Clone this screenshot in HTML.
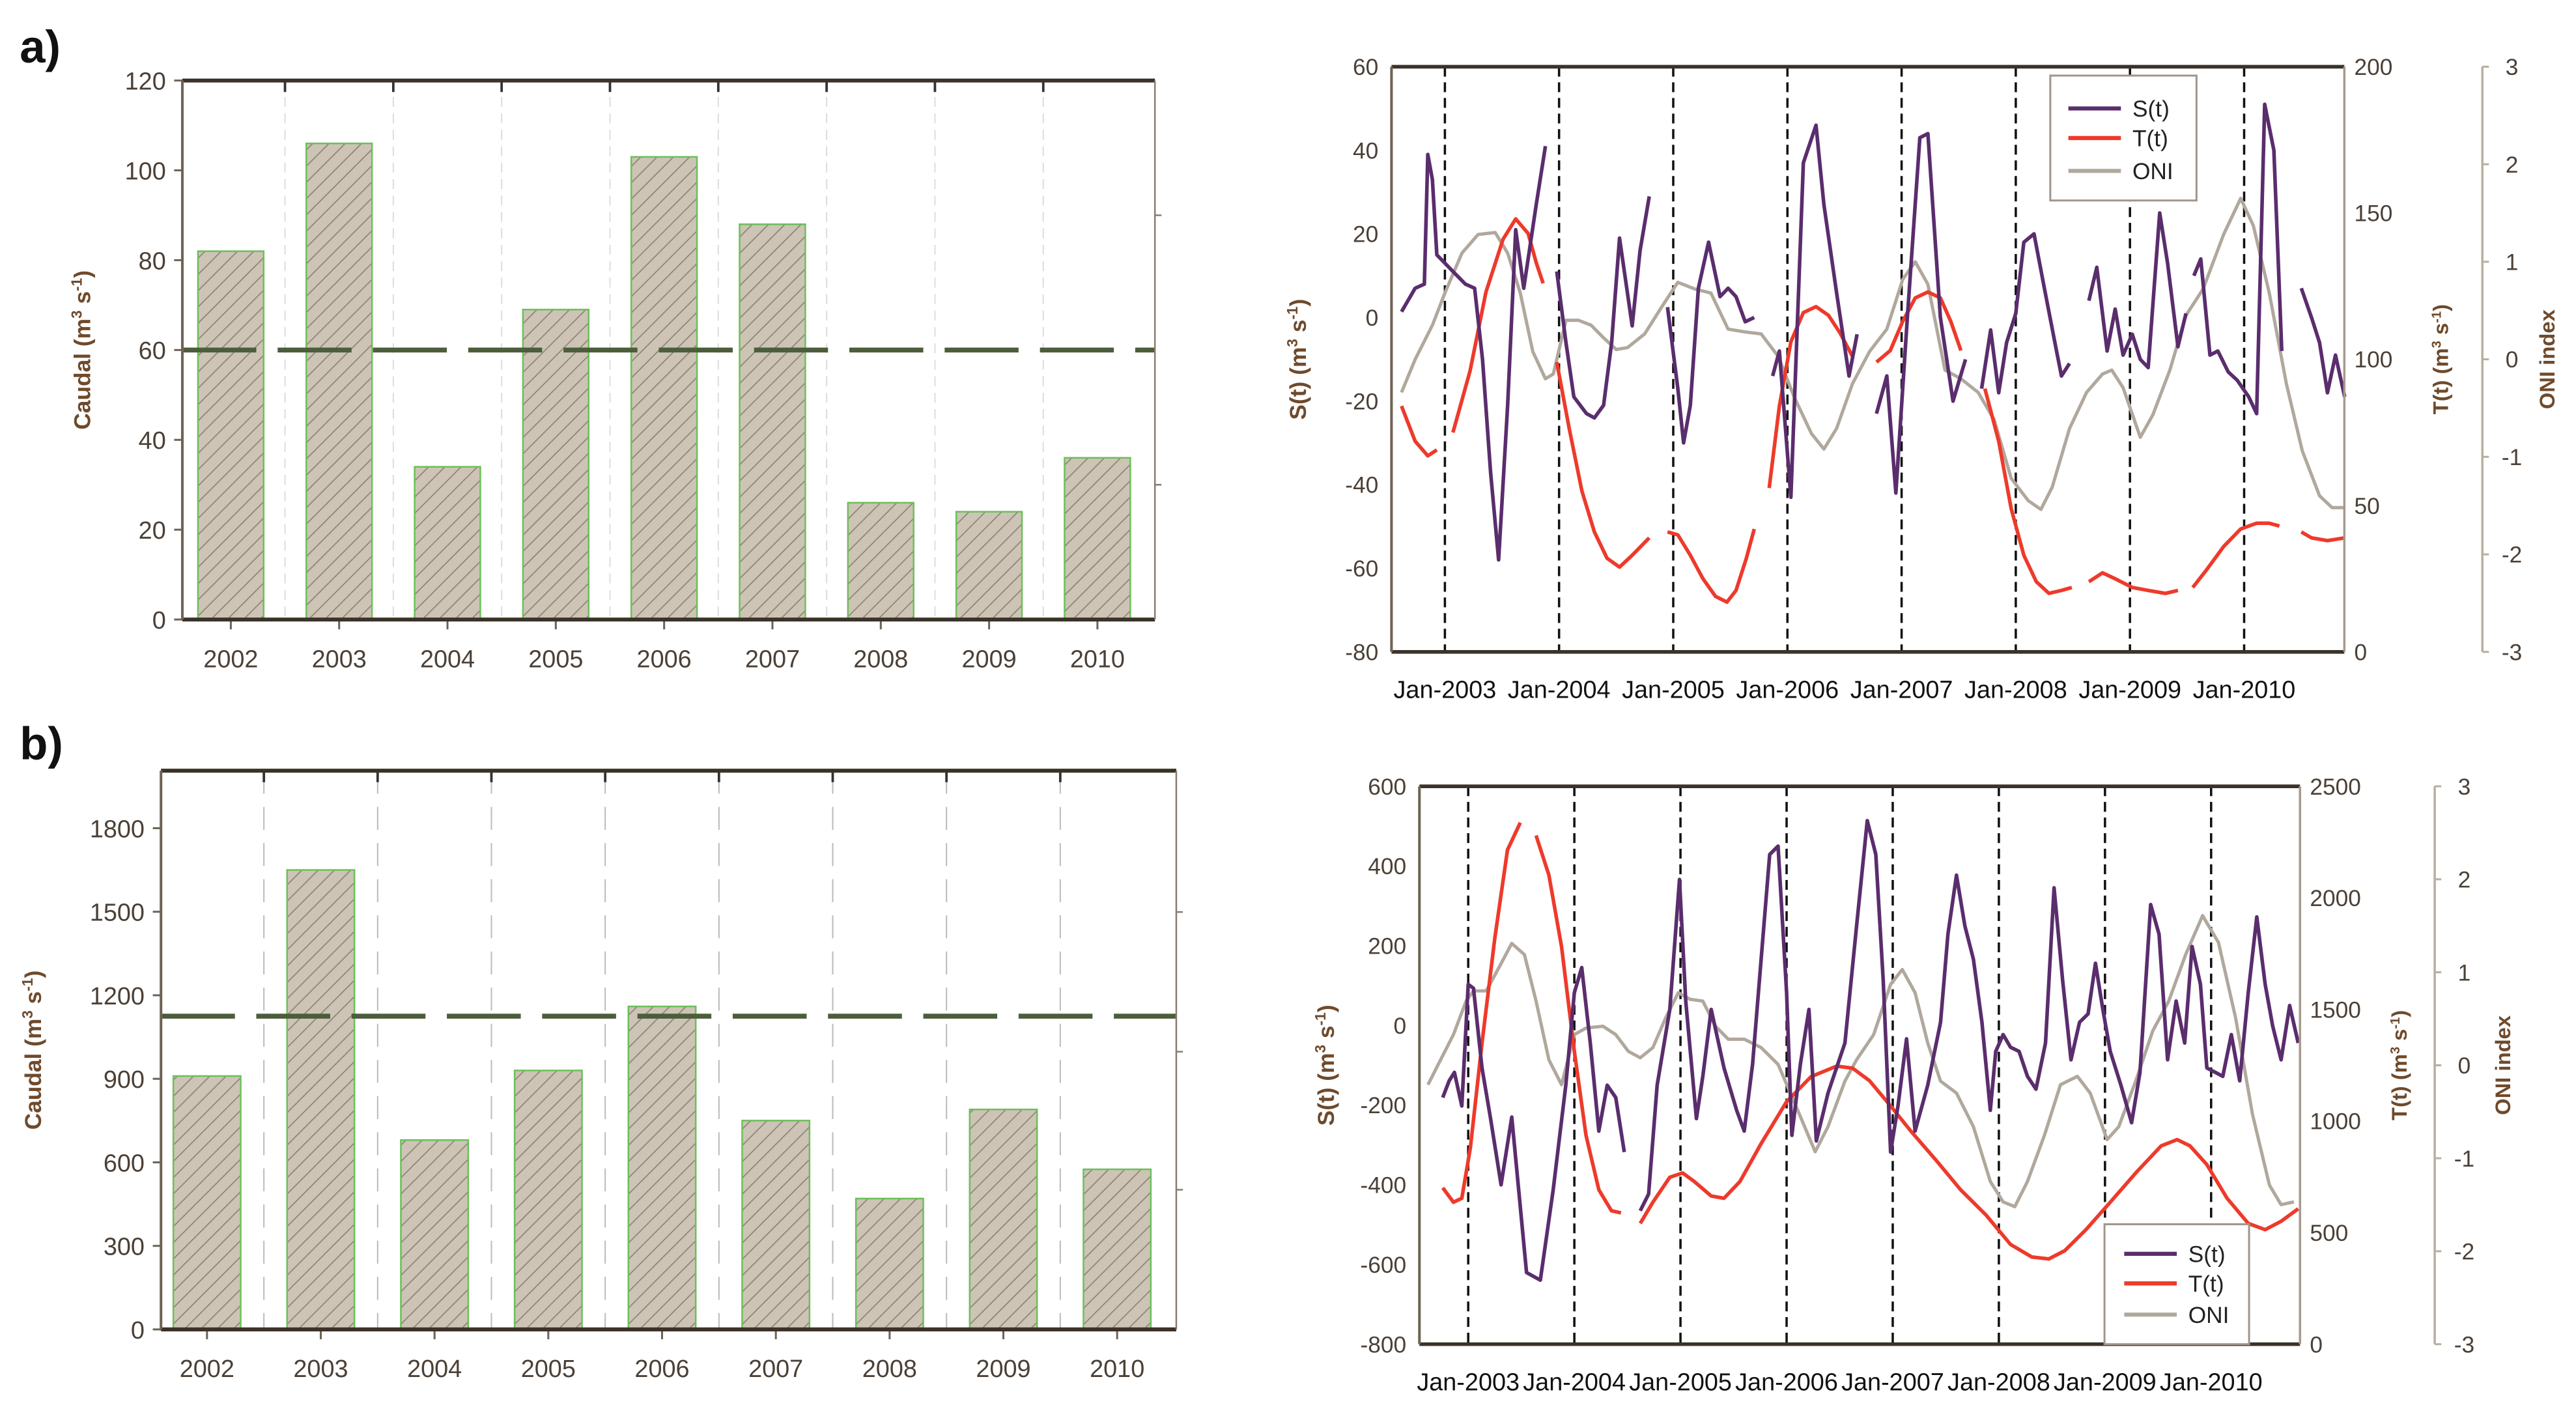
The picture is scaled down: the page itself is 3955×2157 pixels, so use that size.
<!DOCTYPE html>
<html><head><meta charset="utf-8"><style>
html,body{margin:0;padding:0;background:#fff}
svg{display:block}
text{font-family:"Liberation Sans",Arial,sans-serif}
</style></head><body>
<svg id="fig" width="3955" height="2157" viewBox="0 0 1568 855" preserveAspectRatio="none" xmlns="http://www.w3.org/2000/svg">
<defs>
<pattern id="hatch" patternUnits="userSpaceOnUse" width="7" height="7" patternTransform="rotate(45)">
<rect width="7" height="7" fill="#cdc4b6"/>
<line x1="0" y1="0" x2="0" y2="7" stroke="#8d8676" stroke-width="1.4"/>
</pattern>
</defs>
<text x="12" y="38" font-size="28" font-weight="bold" fill="#111">a)</text>
<text x="12" y="462" font-size="28" font-weight="bold" fill="#111">b)</text>
</svg>
<script>
// ===== Data: bar charts =====
const barYears = ["2002","2003","2004","2005","2006","2007","2008","2009","2010"];
const barValuesA = [82,106,34,69,103,88,26,24,36];
const barMeanA = 60;
const barTicksA = [0,20,40,60,80,100,120];
const barValuesB = [910,1650,680,930,1160,750,470,790,575];
const barMeanB = 1125;
const barTicksB = [0,300,600,900,1200,1500,1800];

// ===== Data: time series panel a =====
const sTimeA = [2002.62,2002.74,2002.82,2002.85,2002.89,2002.93,2003.0,2003.07,2003.18,2003.26,2003.33,2003.40,2003.47,2003.55,2003.62,2003.69,2003.80,2003.88,null,
2003.98,2004.06,2004.13,2004.24,2004.31,2004.39,2004.46,2004.53,2004.64,2004.71,2004.79,null,
2004.95,2005.04,2005.09,2005.15,2005.22,2005.31,2005.41,2005.48,2005.55,2005.63,2005.71,null,
2005.87,2005.93,2006.03,2006.14,2006.25,2006.32,2006.43,2006.54,2006.61,null,
2006.78,2006.87,2006.95,2007.05,2007.16,2007.23,2007.34,2007.45,2007.56,null,
2007.70,2007.78,2007.85,2007.92,2008.0,2008.07,2008.16,2008.25,2008.35,2008.40,2008.47,null,
2008.64,2008.71,2008.80,2008.87,2008.94,2009.02,2009.09,2009.16,2009.26,2009.33,2009.42,2009.49,null,
2009.56,2009.62,2009.70,2009.77,2009.86,2009.94,2010.04,2010.11,2010.18,2010.26,2010.33,null,
2010.50,2010.59,2010.66,2010.73,2010.80,2010.88];
const sValA = [1.4,7,8,39,33,15,13,11,8,7,-10,-37,-58,-21,21,7,27,41,null,
11,-6,-19,-23,-24,-21,-6,19,-2,16,29,null,
2.5,-17,-30,-21,7,18,5,7,5,-1,0,null,
-14,-8,-43,37,46,27,6,-14,-4,null,
-23,-14,-42,0,43,44,0,-20,-10,null,
-17,-3,-18,-6,1,18,20,7,-7,-14,-11,null,
4,12,-8,2,-9,-4,-10,-12,25,13,-7,1,null,
10,14,-9,-8,-13,-15,-19,-23,51,40,-8,null,
7,0,-6,-18,-9,-19];
const tTimeA = [2002.62,2002.74,2002.85,2002.93,null,2003.07,2003.22,2003.36,2003.51,2003.62,2003.73,2003.80,2003.86,null,
2003.98,2004.09,2004.20,2004.31,2004.42,2004.53,2004.64,2004.79,null,
2004.95,2005.04,2005.15,2005.26,2005.37,2005.47,2005.55,2005.64,2005.71,null,
2005.84,2005.93,2006.03,2006.14,2006.25,2006.36,2006.46,2006.57,null,
2006.78,2006.90,2007.01,2007.12,2007.23,2007.34,2007.43,2007.52,null,
2007.73,2007.85,2007.96,2008.07,2008.18,2008.29,2008.40,2008.49,null,
2008.64,2008.76,2008.87,2009.02,2009.16,2009.31,2009.42,null,
2009.55,2009.67,2009.82,2009.97,2010.11,2010.22,2010.31,null,
2010.50,2010.59,2010.73,2010.88];
const tValA = [84,72,67,69,null,75,96,123,141,148,143,133,126,null,
99,76,55,41,32,29,33,39,null,
41,40,33,25,19,17,21,32,42,null,
56,84,106,116,118,115,109,101,null,
99,103,113,121,123,121,113,103,null,
90,72,49,33,24,20,21,22,null,
24,27,25,22,21,20,21,null,
22,28,36,42,44,44,43,null,
41,39,38,39];
const oTimeA = [2002.62,2002.74,2002.89,2003.00,2003.15,2003.29,2003.44,2003.55,2003.66,2003.77,2003.88,2003.95,2004.06,2004.17,2004.28,2004.39,2004.50,2004.60,2004.75,2004.90,2005.04,2005.19,2005.33,2005.48,2005.63,2005.77,2005.92,2006.06,2006.21,2006.32,2006.43,2006.57,2006.72,2006.87,2007.01,2007.12,2007.23,2007.38,2007.52,2007.67,2007.81,2007.96,2008.11,2008.22,2008.32,2008.47,2008.62,2008.76,2008.84,2008.94,2009.09,2009.20,2009.35,2009.49,2009.64,2009.82,2009.97,2010.08,2010.22,2010.37,2010.51,2010.66,2010.77,2010.88];
const oValA = [-0.34,0.0,0.35,0.68,1.09,1.28,1.3,1.09,0.68,0.08,-0.2,-0.15,0.4,0.4,0.35,0.22,0.1,0.12,0.26,0.54,0.79,0.72,0.68,0.31,0.28,0.26,0.03,-0.39,-0.76,-0.92,-0.71,-0.25,0.08,0.31,0.82,1.0,0.77,-0.11,-0.2,-0.34,-0.62,-1.22,-1.45,-1.54,-1.31,-0.71,-0.34,-0.15,-0.11,-0.29,-0.8,-0.57,-0.11,0.45,0.72,1.28,1.65,1.37,0.68,-0.25,-0.94,-1.4,-1.52,-1.52];

// ===== Data: time series panel b =====
const sTimeB = [2002.76,2002.82,2002.87,2002.94,2003.00,2003.05,2003.13,2003.21,2003.31,2003.41,2003.55,2003.68,2003.80,2003.92,2004.00,2004.07,2004.15,2004.23,2004.31,2004.39,2004.47,null,
2004.62,2004.70,2004.78,2004.90,2004.99,2005.05,2005.15,2005.21,2005.29,2005.41,2005.53,2005.60,2005.68,2005.76,2005.84,2005.92,2006.00,2006.05,2006.13,2006.21,2006.28,2006.39,2006.55,2006.66,2006.76,2006.84,2006.91,2006.98,2007.05,2007.13,2007.21,2007.33,2007.45,2007.52,2007.60,2007.68,2007.76,2007.84,2007.92,2007.97,2008.04,2008.11,2008.19,2008.27,2008.35,2008.44,2008.52,2008.60,2008.68,2008.76,2008.84,2008.91,2008.98,2009.05,2009.15,2009.25,2009.33,2009.43,2009.51,2009.59,2009.67,2009.75,2009.82,2009.90,2009.96,2010.04,2010.11,2010.19,2010.27,2010.35,2010.43,2010.51,2010.58,2010.66,2010.74,2010.82];
const sValB = [-181,-139,-118,-202,103,93,-107,-234,-400,-230,-620,-639,-413,-150,82,145,-44,-265,-150,-181,-318,null,
-465,-423,-150,40,366,61,-234,-128,40,-107,-213,-265,-97,166,429,450,82,-276,-97,40,-290,-170,-44,250,514,429,114,-318,-202,-34,-265,-150,8,229,377,250,166,8,-213,-65,-23,-55,-65,-128,-160,-44,345,114,-86,8,29,156,40,-65,-150,-244,-118,303,229,-86,61,-44,198,103,-107,-118,-128,-23,-139,82,272,103,-2,-86,50,-44];
const tTimeB = [2002.76,2002.86,2002.94,2003.02,2003.13,2003.25,2003.37,2003.49,null,
2003.64,2003.76,2003.88,2004.00,2004.11,2004.23,2004.35,2004.44,null,
2004.62,2004.74,2004.90,2005.02,2005.13,2005.29,2005.41,2005.56,2005.76,2006.00,2006.23,2006.47,2006.62,2006.78,2006.98,2007.17,2007.41,2007.64,2007.88,2008.11,2008.31,2008.47,2008.62,2008.82,2009.05,2009.29,2009.53,2009.68,2009.80,2009.96,2010.15,2010.35,2010.51,2010.66,2010.82];
const tValB = [701,636,654,880,1350,1820,2215,2337,null,
2280,2102,1782,1312,936,692,598,588,null,
541,636,748,767,729,664,654,729,899,1087,1199,1246,1237,1181,1068,955,823,692,579,447,391,382,419,513,636,767,889,917,889,805,654,541,513,551,607];
const oTimeB = [2002.62,2002.74,2002.86,2002.98,2003.05,2003.17,2003.29,2003.41,2003.53,2003.64,2003.76,2003.88,2004.00,2004.11,2004.27,2004.39,2004.51,2004.62,2004.74,2004.86,2004.98,2005.09,2005.21,2005.33,2005.45,2005.60,2005.76,2005.92,2006.07,2006.27,2006.39,2006.55,2006.66,2006.82,2006.98,2007.09,2007.21,2007.33,2007.45,2007.60,2007.76,2007.92,2008.04,2008.15,2008.27,2008.43,2008.58,2008.74,2008.86,2009.02,2009.13,2009.29,2009.45,2009.60,2009.76,2009.92,2010.07,2010.23,2010.39,2010.55,2010.66,2010.78];
const oValB = [-0.21,0.06,0.33,0.69,0.8,0.8,1.05,1.31,1.19,0.69,0.06,-0.21,0.33,0.4,0.42,0.33,0.15,0.08,0.19,0.51,0.78,0.71,0.69,0.42,0.28,0.28,0.19,0.01,-0.39,-0.93,-0.66,-0.17,0.06,0.33,0.87,1.03,0.78,0.24,-0.17,-0.3,-0.66,-1.25,-1.47,-1.52,-1.25,-0.75,-0.21,-0.12,-0.3,-0.8,-0.66,-0.17,0.37,0.69,1.19,1.61,1.32,0.51,-0.53,-1.29,-1.5,-1.47];

const janYears = [2003,2004,2005,2006,2007,2008,2009,2010];
const janLabels = ["Jan-2003","Jan-2004","Jan-2005","Jan-2006","Jan-2007","Jan-2008","Jan-2009","Jan-2010"];
const sTicksA = [-80,-60,-40,-20,0,20,40,60];
const tTicksA = [0,50,100,150,200];
const sTicksB = [-800,-600,-400,-200,0,200,400,600];
const tTicksB = [0,500,1000,1500,2000,2500];
const oniTicks = [-3,-2,-1,0,1,2,3];

const NS = "http://www.w3.org/2000/svg";
const svg = document.getElementById('fig');
function mk(tag, attrs, parent){
  const e = document.createElementNS(NS, tag);
  for (const k in attrs) e.setAttribute(k, attrs[k]);
  (parent||svg).appendChild(e);
  return e;
}
function lin(d0,d1,r0,r1){ return v => r0 + (v-d0)*(r1-r0)/(d1-d0); }
const AX = "#6f6354", TXT = "#4b4036", LBL = "#6e4a2c";

// ===== Bar charts =====
function barChart(cfg){
  const g = mk('g', {});
  
  
  const y = lin(0, cfg.vmax, cfg.y0, cfg.y1);
  const n = barYears.length;
  const step = (cfg.c1 - cfg.c0)/(n-1);
  const cx = i => cfg.c0 + i*step;
  // grid dashed separators
  for (let i=0;i<n-1;i++){
    const xx = cx(i)+step/2;
    const gl = mk('line',{x1:xx,x2:xx,y1:cfg.yTop,y2:cfg.y0,stroke:cfg.gridColor,'stroke-width':0.8,'stroke-dasharray':cfg.gridDash},g);
    
    
    const tk = mk('line',{x1:xx,x2:xx,y1:cfg.yTop,y2:cfg.yTop+7,stroke:'#333','stroke-width':1.5},g);
    
    
  }
  cfg.values.forEach((v,i)=>{
    const r = mk('rect',{x:cx(i)-cfg.bw/2,y:y(v),width:cfg.bw,height:cfg.y0-y(v),fill:'url(#hatch)',stroke:'#6cc05a','stroke-width':1},g);
    
    
    const t = mk('text',{x:cx(i),y:cfg.y0+29,'font-size':15,'text-anchor':'middle',fill:TXT},g);
    t.textContent = barYears[i];
    
    
    const bt = mk('line',{x1:cx(i),x2:cx(i),y1:cfg.y0,y2:cfg.y0+6,stroke:AX,'stroke-width':1.2},g);
    
    
  });
  const ml = mk('line',{x1:cfg.x0,x2:cfg.x1,y1:y(cfg.mean),y2:y(cfg.mean),stroke:'#4c5d3c','stroke-width':3,'stroke-dasharray':'45 13'},g);
  
  
  // axes
  const frame = [[cfg.x0,cfg.yTop,cfg.x1,cfg.yTop,'#3b3228',2.4],[cfg.x0,cfg.y0,cfg.x1,cfg.y0,'#3b3228',2.4],[cfg.x0,cfg.yTop,cfg.x0,cfg.y0,AX,1.6],[cfg.x1,cfg.yTop,cfg.x1,cfg.y0,'#8a7d70',1]];
  const fnames = ['top-axis','x-axis','y-axis','right-axis'];
  frame.forEach((f,k)=>{
    const l = mk('line',{x1:f[0],y1:f[1],x2:f[2],y2:f[3],stroke:f[4],'stroke-width':f[5]},g);
    
    
  });
  cfg.ticks.forEach(v=>{
    const t = mk('text',{x:cfg.x0-10,y:y(v)+5.5,'font-size':15,'text-anchor':'end',fill:TXT},g);
    t.textContent = v;
    
    
    const tk = mk('line',{x1:cfg.x0-5,x2:cfg.x0,y1:y(v),y2:y(v),stroke:AX,'stroke-width':1.2},g);
    
    
  });
  cfg.rticks.forEach(yy=>{
    const tk = mk('line',{x1:cfg.x1,x2:cfg.x1+4,y1:yy,y2:yy,stroke:'#8a7d70','stroke-width':1},g);
    
    
  });
  const lab = mk('text',{x:0,y:0,'font-size':14,'font-weight':'bold','text-anchor':'middle',fill:LBL,transform:`translate(${cfg.labX},${(cfg.yTop+cfg.y0)/2}) rotate(-90)`},g);
  lab.innerHTML = 'Caudal (m<tspan baseline-shift="super" font-size="9">3</tspan> s<tspan baseline-shift="super" font-size="9">-1</tspan>)';
  
  
}
barChart({name:'bar-chart-a',values:barValuesA,mean:barMeanA,ticks:barTicksA,vmax:120,x0:111,x1:703,yTop:49,y0:377,y1:49,c0:140.5,c1:668,bw:40,rticks:[131,295],labX:55,gridColor:'#ddd',gridDash:'6 4'});
barChart({name:'bar-chart-b',values:barValuesB,mean:barMeanB,ticks:barTicksB,vmax:1800,x0:98,x1:716,yTop:469,y0:809,y1:504,c0:126,c1:680,bw:41,rticks:[555,640,724],labX:25,gridColor:'#bbb',gridDash:'14 8'});

// ===== Time series =====
function tsChart(c){
  const g = mk('g', {});
  
  
  const x = lin(2003, 2004, c.jan0, c.jan0 + c.yr);
  const yS = lin(c.sMin, c.sMax, c.yB, c.yT);
  const yT = lin(0, c.tMax, c.yB, c.yT);
  const yO = lin(-3, 3, c.yB, c.yT);
  // Jan lines
  janYears.forEach((yr,i)=>{
    const l = mk('line',{x1:x(yr),x2:x(yr),y1:c.yT,y2:c.yB,stroke:'#111','stroke-width':1.4,'stroke-dasharray':'6 3.5'},g);
    
    
    const t = mk('text',{x:x(yr),y:c.yB+28,'font-size':15,'text-anchor':'middle',fill:'#111'},g);
    t.textContent = janLabels[i];
    
    
  });
  function series(ts, vs, yf, color, w, name){
    let d = '', pen = false;
    for (let i=0;i<ts.length;i++){
      if (ts[i]===null || vs[i]===null){ pen=false; continue; }
      d += (pen?'L':'M') + x(ts[i]).toFixed(1) + ' ' + yf(vs[i]).toFixed(1) + ' ';
      pen = true;
    }
    const p = mk('path',{d:d,fill:'none',stroke:color,'stroke-width':w,'stroke-linejoin':'round'},g);
    
    
  }
  series(c.oT, c.oV, yO, '#b1a89d', 2, 'oni-line');
  series(c.tT, c.tV, yT, '#ee3a2b', 2.2, 't-line');
  series(c.sT, c.sV, yS, '#5a2d6d', 2.2, 's-line');
  // axes
  const fr = [[c.xL,c.yT,c.xR,c.yT,'#3b3228',2.2,'top-axis'],[c.xL,c.yB,c.xR,c.yB,'#3b3228',2.2,'x-axis'],[c.xL,c.yT,c.xL,c.yB,AX,1.6,'s-axis'],[c.xR,c.yT,c.xR,c.yB,'#a79a8c',1.4,'t-axis'],[c.xO,c.yT,c.xO,c.yB,'#b9ae9f',1.4,'oni-axis']];
  fr.forEach(f=>{
    const l = mk('line',{x1:f[0],y1:f[1],x2:f[2],y2:f[3],stroke:f[4],'stroke-width':f[5]},g);
    
    
  });
  c.sTicks.forEach(v=>{
    const t = mk('text',{x:c.xL-8,y:yS(v)+5,'font-size':14,'text-anchor':'end',fill:TXT},g);
    t.textContent = v;
    
    
  });
  c.tTicks.forEach(v=>{
    const t = mk('text',{x:c.xR+6,y:yT(v)+5,'font-size':14,'text-anchor':'start',fill:TXT},g);
    t.textContent = v;
    
    
  });
  oniTicks.forEach(v=>{
    const tk = mk('line',{x1:c.xO,x2:c.xO+4,y1:yO(v),y2:yO(v),stroke:'#b9ae9f','stroke-width':1.2},g);
    
    
    const t = mk('text',{x:c.xO+18,y:yO(v)+5,'font-size':14,'text-anchor':'middle',fill:TXT},g);
    t.textContent = v;
    
    
  });
  const mid = (c.yT+c.yB)/2;
  const sl = mk('text',{'font-size':14,'font-weight':'bold','text-anchor':'middle',fill:LBL,transform:`translate(${c.xL-52},${mid}) rotate(-90)`},g);
  sl.innerHTML = 'S(t) (m<tspan baseline-shift="super" font-size="9">3</tspan> s<tspan baseline-shift="super" font-size="9">-1</tspan>)';
  
  
  const tl = mk('text',{'font-size':13,'font-weight':'bold','text-anchor':'middle',fill:LBL,transform:`translate(${c.tLabX},${mid}) rotate(-90)`},g);
  tl.innerHTML = 'T(t) (m<tspan baseline-shift="super" font-size="8">3</tspan> s<tspan baseline-shift="super" font-size="8">-1</tspan>)';
  
  
  const ol = mk('text',{'font-size':13,'font-weight':'bold','text-anchor':'middle',fill:LBL,transform:`translate(${c.oLabX},${mid}) rotate(-90)`},g);
  ol.textContent = 'ONI index';
  
  
  // legend
  const L = c.leg;
  const lg = mk('g',{},g);
  
  
  const box = mk('rect',{x:L.x,y:L.y,width:L.w,height:L.h,fill:'#fff',stroke:'#a0968a','stroke-width':1.2},lg);
  
  
  const items = [['S(t)','#5a2d6d'],['T(t)','#ee3a2b'],['ONI','#b1a89d']];
  items.forEach((it,i)=>{
    const yy = L.rows[i];
    const ln = mk('line',{x1:L.lx0,x2:L.lx1,y1:yy,y2:yy,stroke:it[1],'stroke-width':2.5},lg);
    
    
    const t = mk('text',{x:L.tx,y:yy+5,'font-size':14,fill:'#222'},lg);
    t.textContent = it[0];
    
    
  });
}
tsChart({name:'timeseries-a',jan0:879.5,yr:69.5,xL:847,xR:1427,xO:1511,yT:40.6,yB:396.7,sMin:-80,sMax:60,tMax:200,
  sT:sTimeA,sV:sValA,tT:tTimeA,tV:tValA,oT:oTimeA,oV:oValA,sTicks:sTicksA,tTicks:tTicksA,tLabX:1490,oLabX:1555,
  leg:{x:1248,y:46,w:89,h:76,rows:[66,84,104],lx0:1259,lx1:1291,tx:1298}});
tsChart({name:'timeseries-b',jan0:893.7,yr:64.6,xL:864,xR:1400,xO:1482,yT:478.5,yB:818,sMin:-800,sMax:600,tMax:2500,
  sT:sTimeB,sV:sValB,tT:tTimeB,tV:tValB,oT:oTimeB,oV:oValB,sTicks:sTicksB,tTicks:tTicksB,tLabX:1465,oLabX:1528,
  leg:{x:1281,y:745,w:88,h:73,rows:[763,781,800],lx0:1293,lx1:1325,tx:1332}});
</script>
</body></html>
